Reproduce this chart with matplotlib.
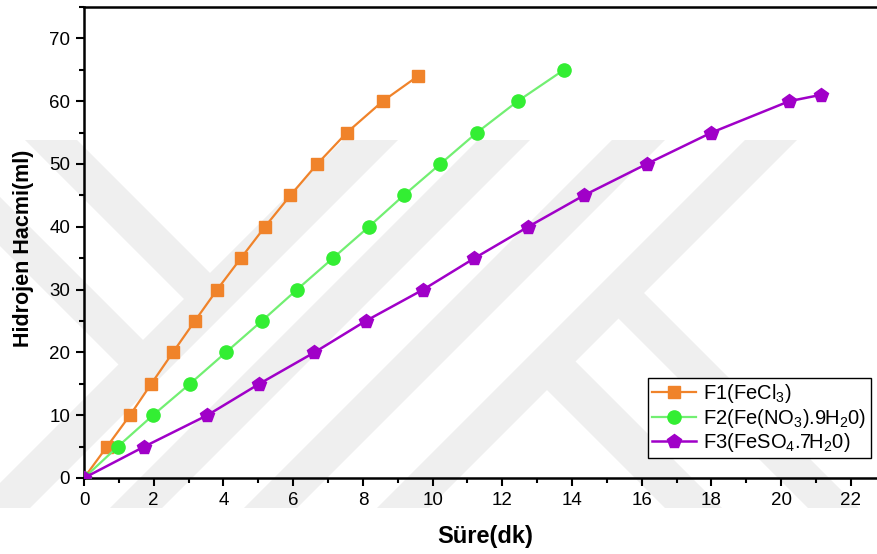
import numpy as np
import matplotlib
matplotlib.use('Agg')
import matplotlib.pyplot as plt
from matplotlib.patches import Polygon
from matplotlib.ticker import MultipleLocator
import matplotlib.transforms as mtransforms

plt.rcParams['font.family'] = ['Liberation Sans', 'DejaVu Sans']
plt.rcParams['mathtext.default'] = 'regular'

# Hidrojen hacmi (ml) ve süre (dk) ölçümleri
hacim_f1 = [0, 5, 10, 15, 20, 25, 30, 35, 40, 45, 50, 55, 60, 64]
sure_f1 = [0, 0.66, 1.32, 1.93, 2.55, 3.18, 3.82, 4.50, 5.19, 5.92, 6.69, 7.54, 8.57, 9.58]

hacim_f2 = [0, 5, 10, 15, 20, 25, 30, 35, 40, 45, 50, 55, 60, 65]
sure_f2 = [0, 0.97, 1.98, 3.04, 4.07, 5.10, 6.11, 7.14, 8.17, 9.17, 10.22, 11.27, 12.44, 13.77]

hacim_f3 = [0, 5, 10, 15, 20, 25, 30, 35, 40, 45, 50, 55, 60, 61]
sure_f3 = [0, 1.73, 3.54, 5.03, 6.61, 8.08, 9.73, 11.20, 12.74, 14.34, 16.14, 18.00, 20.23, 21.13]

etiketler = [r'F1(FeCl$_3$)', r'F2(Fe(NO$_3$).9H$_2$0)', r'F3(FeSO$_4$.7H$_2$0)']

W, H = 877, 554
fig = plt.figure(figsize=(W / 100, H / 100), dpi=100)

# arka plandaki gri filigran (piksel koordinatlarında)
px = mtransforms.Affine2D().scale(1 / W, -1 / H).translate(0, 1) + fig.transFigure
gri = '#efefef'
y0, y1 = 140, 508


def serit(a, b):
    # x + y = a ... b arasında kalan "/" şerit
    return [(a - y0, y0), (b - y0, y0), (b - y1, y1), (a - y1, y1)]


sekiller = [serit(483, 538), serit(618, 670), serit(752, 805), serit(885, 937)]
sekiller.append([(25, 140), (77, 140), (220, 283), (194, 309)])
sekiller.append([(-50, 147), (151, 348), (127, 373), (-50, 196)])
sekiller.append([(627, 276), (859, 508), (808, 508), (602, 302)])
sekiller.append([(560, 346), (722, 508), (665, 508), (533, 376)])
for s in sekiller:
    fig.patches.append(Polygon(s, closed=True, transform=px, fc=gri, ec='none', zorder=-5))

left, bottom = 84 / W, (H - 478) / H
ax = fig.add_axes([left, bottom, 23 * 34.86 / W, (478 - 7) / H])
ax.set_zorder(2)
ax.patch.set_alpha(0)

ax.plot(sure_f1, hacim_f1, color='#f0832a', lw=1.6, marker='s', ms=8.5,
        mfc='#f0832a', mec='#f0832a', label=etiketler[0], zorder=3)
ax.plot(sure_f2, hacim_f2, color='#72ef72', lw=1.6, marker='o', ms=9.5,
        mfc='#33ee33', mec='#33ee33', label=etiketler[1], zorder=3)
ax.plot(sure_f3, hacim_f3, color='#a000c8', lw=1.8, marker='p', ms=10.5,
        mfc='#a000c8', mec='#a000c8', label=etiketler[2], zorder=4)

ax.set_xlim(0, 23)
ax.set_ylim(0, 75)
ax.xaxis.set_major_locator(MultipleLocator(2))
ax.xaxis.set_minor_locator(MultipleLocator(1))
ax.yaxis.set_major_locator(MultipleLocator(10))
ax.yaxis.set_minor_locator(MultipleLocator(5))
ax.tick_params(which='both', direction='out', width=1.5, top=False, right=False,
               labelsize=13.5, colors='black')
ax.tick_params(which='major', length=6, pad=4)
ax.tick_params(which='minor', length=3.5)
for k in ['left', 'bottom', 'top']:
    ax.spines[k].set_linewidth(1.8)
ax.spines['right'].set_visible(False)

fig.text(24 / W, 1 - 248 / H, 'Hidrojen Hacmi(ml)', rotation=90, ha='center', va='center',
         fontsize=15.5, fontweight='bold')
fig.text(485 / W, 1 - 537 / H, 'Süre(dk)', ha='center', va='center',
         fontsize=17, fontweight='bold')

leg = ax.legend(loc='upper left', bbox_to_anchor=(648 / W, 1 - 378 / H),
                bbox_transform=fig.transFigure, fontsize=14.5, frameon=True,
                fancybox=False, edgecolor='black', framealpha=1, borderpad=0.2,
                handlelength=2.2, handletextpad=0.35, labelspacing=0.08, borderaxespad=0)
leg.get_frame().set_linewidth(1.0)

fig.savefig('out.png', dpi=100)
